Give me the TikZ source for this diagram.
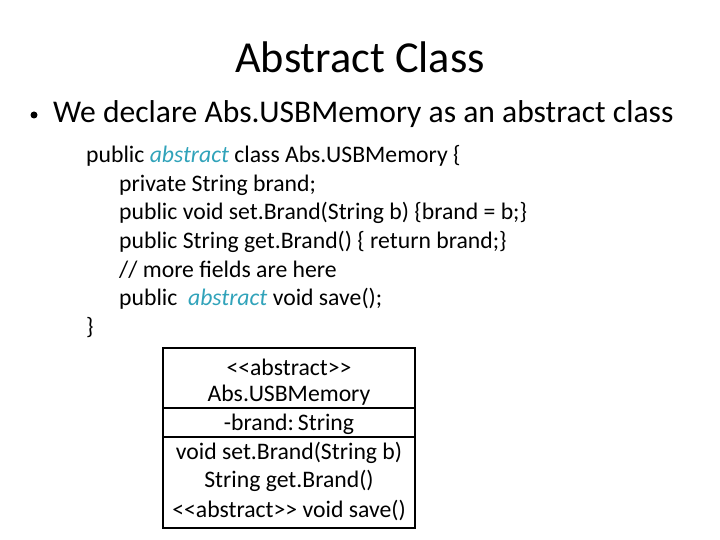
\documentclass[tikz,border=0pt]{standalone}
\usepackage{fontspec}
\setmainfont{Carlito}
\definecolor{kw}{HTML}{31A3BA}
\begin{document}
\begin{tikzpicture}[x=1pt,y=-1pt,
  code/.style={anchor=west,inner sep=0,font=\fontsize{23.7}{28}\selectfont},
  uml/.style={anchor=center,inner sep=0,font=\fontsize{23.7}{28}\selectfont}]
\useasboundingbox (0,0) rectangle (720,540);
\node[inner sep=0,font=\fontsize{44.3}{52}\selectfont] (title) at (360,57) {Abstract Class};
\fill (34,115) circle (3.5);
\node[anchor=west,inner sep=0,font=\fontsize{31.6}{38}\selectfont] (bul) at (53,114) {We declare Abs.USBMemory as an abstract class};
\node[code] (c1) at (86,156) {public \textcolor{kw}{\itshape abstract} class Abs.USBMemory \{};
\node[code] (c2) at (119,185) {private String brand;};
\node[code] (c3) at (119,213) {public void set.Brand(String b) \{brand = b;\}};
\node[code] (c4) at (119,242) {public String get.Brand() \{ return brand;\}};
\node[code] (c5) at (119,270) {// more fields are here};
\node[code] (c6) at (119,299) {public\ \ \textcolor{kw}{\itshape abstract} void save();};
\node[code] (c7) at (86,328) {\}};
\draw[line width=1.5pt] (163,348) rectangle (415,528);
\draw[line width=1.5pt] (163,408) -- (415,408);
\draw[line width=1.5pt] (163,437) -- (415,437);
\node[uml] (u1) at (289,367) {<{}<abstract>{}>};
\node[uml] (u2) at (289,395) {Abs.USBMemory};
\node[uml] (u3) at (289,424) {-brand:\,String};
\node[uml] (u4) at (289,453) {void set.Brand(String b)};
\node[uml] (u5) at (289,481) {String get.Brand()};
\node[uml] (u6) at (289,510) {<{}<abstract>{}> void save()};
\end{tikzpicture}
\end{document}
